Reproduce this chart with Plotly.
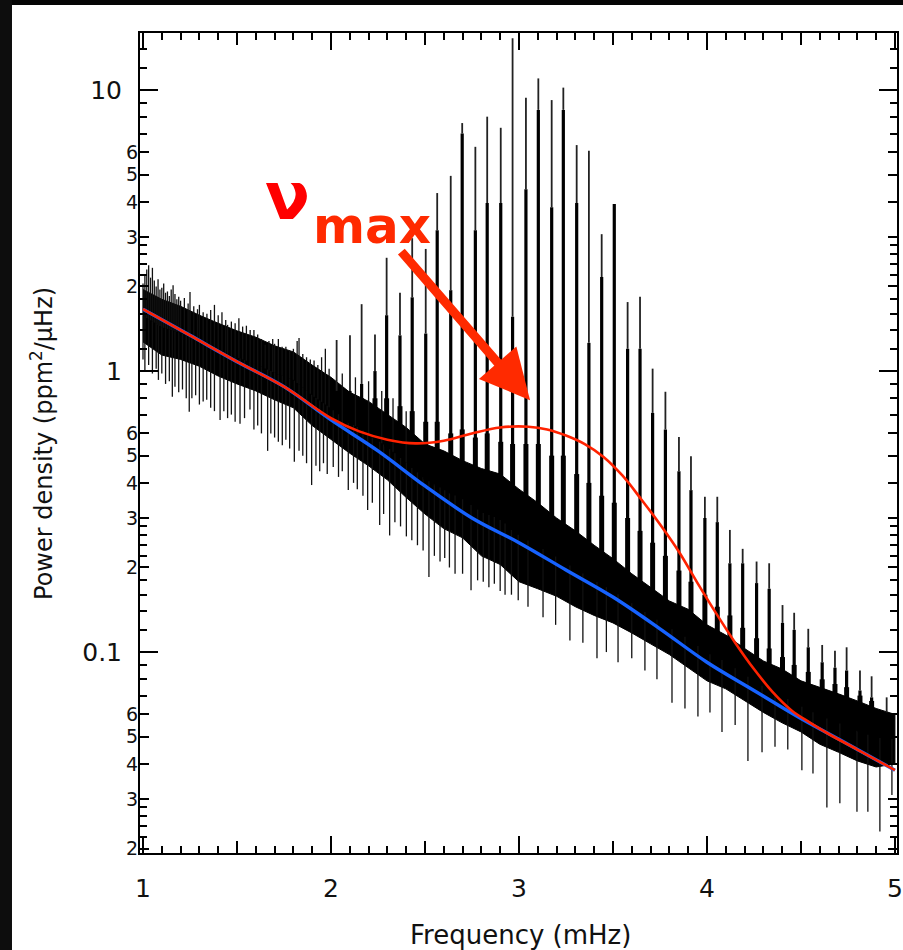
import numpy as np
import plotly.graph_objects as go

# ---------------- data ----------------
# solid core of the power spectrum (lower / upper edge), mHz and ppm^2/uHz
core_f = [1.0, 1.1, 1.2, 1.3, 1.4, 1.5, 1.6, 1.7, 1.8, 1.9, 2.0, 2.1, 2.2, 2.3, 2.4,
          2.5, 2.6, 2.7, 2.8, 2.9, 3.0, 3.1, 3.2, 3.3, 3.4, 3.5, 3.6, 3.7, 3.8, 3.9,
          4.0, 4.1, 4.2, 4.3, 4.4, 4.5, 4.6, 4.7, 4.8, 4.9, 5.0]
core_hi = [1.95, 1.8, 1.7, 1.58, 1.48, 1.39, 1.32, 1.23, 1.17, 1.05, 0.95, 0.84, 0.78,
           0.70, 0.63, 0.55, 0.52, 0.48, 0.45, 0.43, 0.38, 0.34, 0.30, 0.27, 0.24,
           0.215, 0.19, 0.17, 0.152, 0.142, 0.125, 0.115, 0.103, 0.093, 0.087, 0.079,
           0.075, 0.071, 0.067, 0.063, 0.060]
core_lo = [1.27, 1.14, 1.1, 1.04, 0.96, 0.9, 0.85, 0.79, 0.74, 0.64, 0.57, 0.51, 0.46,
           0.41, 0.355, 0.31, 0.275, 0.255, 0.22, 0.205, 0.178, 0.168, 0.158, 0.145,
           0.135, 0.127, 0.117, 0.107, 0.098, 0.088, 0.079, 0.074, 0.067, 0.061, 0.056,
           0.052, 0.047, 0.044, 0.041, 0.039, 0.040]

# p-mode peaks: frequency, broad base top, thick body top, thin peak top
mode_f = [2.030, 2.101, 2.163, 2.234, 2.296, 2.367, 2.432, 2.504, 2.565, 2.637, 2.698,
          2.768, 2.831, 2.903, 2.966, 3.037, 3.103, 3.174, 3.236, 3.307, 3.372, 3.440,
          3.507, 3.578, 3.644, 3.711, 3.779, 3.851, 3.915, 3.989, 4.055, 4.122, 4.190,
          4.264, 4.331, 4.402, 4.464, 4.539, 4.613, 4.681, 4.743, 4.814, 4.876, 4.956]
mode_tooth = [0.8, 0.8, 0.8, 0.8, 0.8, 0.75, 0.72, 0.66, 0.66, 0.6, 0.62, 0.58, 0.6,
              0.56, 0.55, 0.55, 0.55, 0.5, 0.5, 0.43, 0.4, 0.36, 0.34, 0.3, 0.27, 0.245,
              0.22, 0.195, 0.178, 0.16, 0.145, 0.135, 0.122, 0.112, 0.103, 0.096, 0.09,
              0.085, 0.08, 0.077, 0.075, 0.07, 0.067, 0.06]
mode_body = [0.85, 0.85, 0.9, 1.0, 1.58, 1.34, 1.83, 1.36, 3.17, 1.94, 7.0, 3.17, 3.96,
             3.96, 1.56, 4.44, 8.5, 3.83, 8.5, 3.96, 1.26, 2.16, 3.93, 1.2, 1.2, 0.71,
             0.62, 0.44, 0.377, 0.30, 0.29, 0.207, 0.207, 0.176, 0.168, 0.127, 0.12,
             0.104, 0.092, 0.088, 0.086, 0.073, 0.069, 0.061]
mode_peak = [1.29, 1.34, 1.73, 1.35, 2.53, 1.90, 2.97, 2.72, 4.30, 4.95, 7.63, 6.28, 8.04,
             7.34, 15.3, 9.39, 11.0, 9.21, 10.2, 6.37, 6.08, 3.07, 3.93, 1.76, 1.84, 1.02,
             0.844, 0.582, 0.498, 0.357, 0.357, 0.272, 0.233, 0.210, 0.207, 0.147, 0.138,
             0.121, 0.106, 0.101, 0.104, 0.086, 0.082, 0.069]

# noise spikes rising above the core
up_f = [1.00, 1.01, 1.02, 1.03, 1.04, 1.05, 1.06, 1.07, 1.08, 1.09, 1.10, 1.11, 1.12,
        1.13, 1.14, 1.15, 1.16, 1.17, 1.18, 1.19, 1.20, 1.22, 1.24, 1.25, 1.27, 1.29,
        1.30, 1.32, 1.34, 1.36, 1.38, 1.40, 1.42, 1.44, 1.45, 1.47, 1.49, 1.51, 1.53,
        1.55, 1.57, 1.59, 1.61, 1.63, 1.65, 1.67, 1.69, 1.70, 1.72, 1.74, 1.76, 1.78,
        1.80, 1.82, 1.83, 1.85, 1.87, 1.89, 1.91, 1.93, 1.95, 1.97, 1.99, 2.06, 2.13,
        2.20, 2.27, 2.33, 2.40]
up_v = [2.05, 2.20, 2.30, 2.38, 2.15, 2.33, 2.10, 2.00, 2.12, 1.95, 1.98, 2.05, 1.90,
        1.92, 1.85, 1.95, 2.02, 1.88, 1.80, 1.84, 1.78, 1.82, 1.74, 1.91, 1.70, 1.66,
        1.72, 1.62, 1.60, 1.65, 1.72, 1.58, 1.62, 1.52, 1.46, 1.50, 1.48, 1.54, 1.44,
        1.45, 1.40, 1.40, 1.35, 1.30, 1.24, 1.28, 1.30, 1.25, 1.30, 1.22, 1.22, 1.18,
        1.20, 1.28, 1.31, 1.15, 1.12, 1.10, 1.09, 1.05, 1.12, 1.20, 1.02, 0.98, 0.95,
        0.92, 0.85, 0.80, 0.72]

# noise spikes / inter-mode dips falling below the core
dn_f = [1.00, 1.01, 1.03, 1.05, 1.07, 1.082, 1.10, 1.12, 1.14, 1.156, 1.17, 1.19, 1.21,
        1.23, 1.246, 1.26, 1.28, 1.30, 1.32, 1.339, 1.36, 1.38, 1.41, 1.43, 1.45, 1.47,
        1.49, 1.516, 1.54, 1.569, 1.59, 1.61, 1.63, 1.663, 1.68, 1.70, 1.72, 1.741,
        1.76, 1.78, 1.805, 1.83, 1.85, 1.87, 1.897, 1.92, 1.94, 1.96, 1.98, 2.012,
        2.04, 2.06, 2.092, 2.12, 2.14, 2.17, 2.195, 2.22, 2.259, 2.28, 2.312, 2.34,
        2.37, 2.401, 2.43, 2.46, 2.49, 2.521, 2.55, 2.58, 2.605, 2.63, 2.66, 2.70,
        2.745, 2.78, 2.810, 2.84, 2.869, 2.90, 2.926, 2.96, 2.996,
        3.048, 3.128, 3.195, 3.271, 3.340, 3.415, 3.465, 3.527, 3.600, 3.670, 3.734,
        3.814, 3.883, 3.952, 4.016, 4.080, 4.150, 4.218, 4.293, 4.362, 4.430, 4.505,
        4.564, 4.638, 4.707, 4.798, 4.856, 4.920, 4.984]
dn_v = [1.10, 1.00, 1.05, 0.98, 1.02, 0.93, 0.98, 0.90, 0.92, 0.81, 0.88, 0.84, 0.86,
        0.80, 0.716, 0.80, 0.82, 0.76, 0.78, 0.79, 0.74, 0.72, 0.67, 0.72, 0.68, 0.70,
        0.66, 0.65, 0.68, 0.73, 0.62, 0.64, 0.60, 0.52, 0.60, 0.58, 0.56, 0.545,
        0.57, 0.53, 0.476, 0.52, 0.50, 0.47, 0.393, 0.46, 0.44, 0.47, 0.43, 0.456,
        0.42, 0.44, 0.377, 0.40, 0.38, 0.36, 0.32, 0.34, 0.283, 0.31, 0.26, 0.29,
        0.28, 0.258, 0.25, 0.24, 0.23, 0.185, 0.22, 0.21, 0.216, 0.20, 0.19, 0.19,
        0.166, 0.18, 0.178, 0.17, 0.175, 0.165, 0.16, 0.16, 0.153,
        0.145, 0.133, 0.125, 0.11, 0.108, 0.095, 0.100, 0.092, 0.095, 0.086, 0.080,
        0.066, 0.063, 0.059, 0.061, 0.052, 0.055, 0.041, 0.044, 0.046, 0.045, 0.038,
        0.037, 0.028, 0.029, 0.027, 0.027, 0.023, 0.031]

# background model (blue) and background + oscillation envelope (red)
bg_f = [1.0, 1.25, 1.5, 1.75, 2.0, 2.25, 2.5, 2.75, 3.0, 3.25, 3.5, 3.75, 4.0, 4.25,
        4.5, 4.75, 5.0]
bg_v = [1.66, 1.34, 1.08, 0.88, 0.67, 0.52, 0.39, 0.30, 0.245, 0.196, 0.157, 0.121,
        0.092, 0.073, 0.058, 0.047, 0.038]
fit_f = [1.0, 1.25, 1.5, 1.75, 2.0, 2.15, 2.3, 2.45, 2.6, 2.75, 2.9, 3.05, 3.15, 3.25,
         3.35, 3.45, 3.55, 3.65, 3.75, 3.85, 3.95, 4.05, 4.15, 4.25, 4.35, 4.45, 4.55,
         4.65, 4.8, 5.0]
fit_v = [1.66, 1.34, 1.08, 0.88, 0.68, 0.61, 0.57, 0.553, 0.565, 0.60, 0.63, 0.634,
         0.62, 0.59, 0.55, 0.495, 0.425, 0.35, 0.285, 0.228, 0.176, 0.137, 0.108, 0.087,
         0.072, 0.062, 0.056, 0.051, 0.045, 0.038]

# axis ticks
x_major = [1, 2, 3, 4, 5]
x_half = [1.5, 2.5, 3.5, 4.5]
y_major = [0.1, 1, 10]
y_major_txt = ["0.1", "1", "10"]
y_lab = [0.02, 0.03, 0.04, 0.05, 0.06, 0.2, 0.3, 0.4, 0.5, 0.6, 2, 3, 4, 5, 6]
y_lab_txt = ["2", "3", "4", "5", "6"] * 3
y_minor = [0.022, 0.024, 0.026, 0.028, 0.07, 0.08, 0.09,
           0.12, 0.14, 0.16, 0.18, 0.22, 0.24, 0.26, 0.28, 0.7, 0.8, 0.9,
           1.2, 1.4, 1.6, 1.8, 2.2, 2.4, 2.6, 2.8, 7, 8, 9, 12, 14]

# ---------------- helpers ----------------
log_hi = np.log10(core_hi)
log_lo = np.log10(core_lo)
log_mid = (log_hi + log_lo) / 2.0


def edge_at(fs, log_edge):
    """Where a spike leaves the solid core (position on the core edge)."""
    return list(10 ** np.interp(fs, core_f, log_edge))


def segments(fs, lows, highs):
    xs, ys = [], []
    for f, a, b in zip(fs, lows, highs):
        xs += [f, f, None]
        ys += [a, b, None]
    return xs, ys


FONT = "DejaVu Sans"
XR = [0.984, 5.011]
YR = [-1.715, 1.203]

fig = go.Figure()


def add_lines(xs, ys, color, width):
    fig.add_trace(go.Scatter(x=xs, y=ys, mode="lines", line=dict(color=color, width=width),
                             hoverinfo="skip"))


# solid core
fig.add_trace(go.Scatter(x=core_f + core_f[::-1], y=core_hi + core_lo[::-1],
                         fill="toself", fillcolor="black", mode="lines",
                         line=dict(color="black", width=1), hoverinfo="skip"))
# noise spikes
add_lines(*segments(up_f, edge_at(up_f, log_mid), up_v), "#111", 1.3)
add_lines(*segments(dn_f, edge_at(dn_f, log_mid), dn_v), "#111", 1.3)
# mode structure: broad base, thick body, thin peak
add_lines(*segments(mode_f, edge_at(mode_f, log_mid), mode_tooth), "black", 5)
add_lines(*segments(mode_f, edge_at(mode_f, log_mid), mode_body), "black", 3.2)
add_lines(*segments(mode_f, mode_body, mode_peak), "#222", 1.8)
# model lines
fig.add_trace(go.Scatter(x=bg_f, y=bg_v, mode="lines",
                         line=dict(color="#1662ff", width=3.4, shape="spline"),
                         hoverinfo="skip"))
fig.add_trace(go.Scatter(x=fit_f, y=fit_v, mode="lines",
                         line=dict(color="#ff2200", width=2.6, shape="spline"),
                         hoverinfo="skip"))
# carrier for the secondary tick axes
fig.add_trace(go.Scatter(x=bg_f[:1], y=bg_v[:1], mode="markers", marker=dict(opacity=0),
                         xaxis="x2", yaxis="y2", hoverinfo="skip"))

tick_common = dict(ticks="inside", tickwidth=2, tickcolor="black", showgrid=False,
                   zeroline=False, automargin=False)

fig.update_layout(
    width=903, height=950,
    margin=dict(l=140, r=6, t=33, b=97),
    paper_bgcolor="white", plot_bgcolor="white",
    showlegend=False,
    font=dict(family=FONT, color="#111"),
    xaxis=dict(range=XR, tickvals=x_major, ticklen=17, showline=True, linecolor="black",
               linewidth=2, mirror="ticks", tickfont=dict(size=25, family=FONT, color="#111"),
               ticklabelstandoff=12,
               minor=dict(tick0=1, dtick=0.1, ticks="inside", ticklen=7, tickwidth=2,
                          tickcolor="black", showgrid=False),
               **tick_common),
    xaxis2=dict(range=XR, overlaying="x", anchor="y", side="bottom", tickvals=x_half,
                ticklen=12, showticklabels=False, showline=False, mirror="ticks",
                **tick_common),
    yaxis=dict(type="log", range=YR, tickvals=y_major, ticktext=y_major_txt, ticklen=18,
               showline=True, linecolor="black", linewidth=2, mirror="ticks",
               tickfont=dict(size=25, family=FONT, color="#111"), ticklabelstandoff=11,
               minor=dict(tickvals=y_minor, ticks="inside", ticklen=7, tickwidth=2,
                          tickcolor="black", showgrid=False),
               **tick_common),
    yaxis2=dict(type="log", range=YR, overlaying="y", anchor="x2", side="left",
                tickvals=y_lab, ticktext=y_lab_txt, ticklen=9, showline=False,
                mirror="ticks", tickfont=dict(size=19, family=FONT, color="#111"),
                ticklabelstandoff=1, **tick_common),
)

fig.update_layout(
    shapes=[
        dict(type="rect", xref="paper", yref="paper", x0=-0.2, x1=1.1, y0=1.0341, y1=1.1,
             fillcolor="#050505", line=dict(width=0), layer="above"),
        dict(type="rect", xref="paper", yref="paper", x0=-0.2, x1=-0.1691, y0=-0.2, y1=1.1,
             fillcolor="#0d0d0d", line=dict(width=0), layer="above"),
    ],
    annotations=[
        dict(text="ν", xref="paper", yref="paper", x=0.1955, y=0.80, showarrow=False,
             font=dict(family=FONT, size=66, color="#ff0000", weight="bold"),
             xanchor="center", yanchor="middle"),
        dict(text="max", xref="paper", yref="paper", x=0.307, y=0.765, showarrow=False,
             font=dict(family=FONT, size=50, color="#ff2a00", weight="bold"),
             xanchor="center", yanchor="middle"),
        dict(text="", x=3.059, y=float(np.log10(0.788)), xref="x", yref="y",
             showarrow=True, ax=-130, ay=-150, arrowcolor="#ff2a00", arrowwidth=9,
             arrowhead=2, arrowsize=1.1, standoff=0),
        dict(text="Frequency (mHz)", xref="paper", yref="paper", x=0.502, y=-0.100,
             showarrow=False, font=dict(family=FONT, size=26, color="#111"),
             xanchor="center", yanchor="middle"),
        dict(text="Power density (ppm<sup>2</sup>/μHz)", xref="paper", yref="paper",
             x=-0.1295, y=0.50, textangle=-90, showarrow=False,
             font=dict(family=FONT, size=24, color="#111"),
             xanchor="center", yanchor="middle"),
    ],
)

fig.write_html("out.html")
